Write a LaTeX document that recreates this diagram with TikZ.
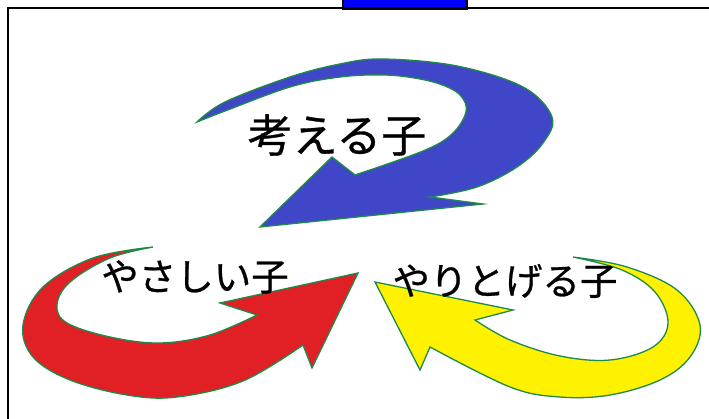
\documentclass[tikz,border=0pt]{standalone}
\usepackage{fontspec}
\newfontfamily\cjk[FakeBold=0.7]{Noto Sans CJK JP}
\definecolor{arrblue}{HTML}{3F46C8}
\definecolor{arrred}{HTML}{E02024}
\definecolor{arryellow}{HTML}{FFF200}
\definecolor{outgreen}{HTML}{1E8A48}
\tikzset{
  arrowshape/.style={draw=outgreen, line width=1.3pt, line join=miter},
  lbl/.style={inner sep=0pt, font=\cjk, text=black}
}
\begin{document}
\begin{tikzpicture}[x=1pt,y=-1pt]
\useasboundingbox (0,0) rectangle (709,419);
\clip (0,0) rectangle (709,419);
\fill[white] (0,0) rectangle (709,419);
% frame
\draw[line width=2pt] (712,8.5) -- (7.5,8.5) -- (7.5,425);
% blue tab
\draw[fill={rgb,255:red,0;green,0;blue,255}, line width=2.5pt] (343,-5) rectangle (467,8.5);
% blue arrow
\filldraw[arrowshape, fill=arrblue]
  (197,122) -- plot[smooth, tension=0.6] coordinates {(197,122) (225,102) (290,77) (340,64) (383,59) (457,66) (523,87) (552,117) (543,143) (517,167) (477,187) (430,197)}
  -- (483,204) -- (260,227) -- (332,157) -- (355,175)
  -- plot[smooth, tension=0.6] coordinates {(355,175) (423,151) (452,134) (466,112) (461,96) (445,86) (420,79) (385,75) (340,77) (290,87) (225,111) (197,122)}
  -- cycle;
% red arrow
\filldraw[arrowshape, fill=arrred]
  (153,247) -- plot[smooth, tension=0.6] coordinates {(153,247) (93,258) (43,287) (23,325) (33,357) (70,380) (127,395) (177,397) (243,381) (303,345)}
  -- (312,368) -- (358,273) -- (220,303) -- (257,315)
  -- plot[smooth, tension=0.6] coordinates {(257,315) (210,335) (160,343) (110,337) (67,323) (57,305) (70,282) (110,258) (153,247)}
  -- cycle;
% yellow arrow
\filldraw[arrowshape, fill=arryellow]
  (573,257) -- plot[smooth, tension=0.6] coordinates {(573,257) (627,267) (677,290) (700,325) (690,357) (660,380) (610,395) (560,397) (510,387) (430,347)}
  -- (420,370) -- (375,282) -- (513,310) -- (475,320)
  -- plot[smooth, tension=0.6] coordinates {(475,320) (510,340) (560,356) (610,360) (653,347) (668,323) (655,292) (622,270) (573,257)}
  -- cycle;
% labels
\node[lbl, font=\cjk\fontsize{45}{45}\selectfont] (kangaeru) at (337,135) {考える子};
\node[lbl, font=\cjk\fontsize{37.5}{37.5}\selectfont] (yasashii) at (195,277) {やさしい子};
\node[lbl, font=\cjk\fontsize{37.5}{37.5}\selectfont] (yaritogeru) at (505,281) {やりとげる子};
\end{tikzpicture}
\end{document}
